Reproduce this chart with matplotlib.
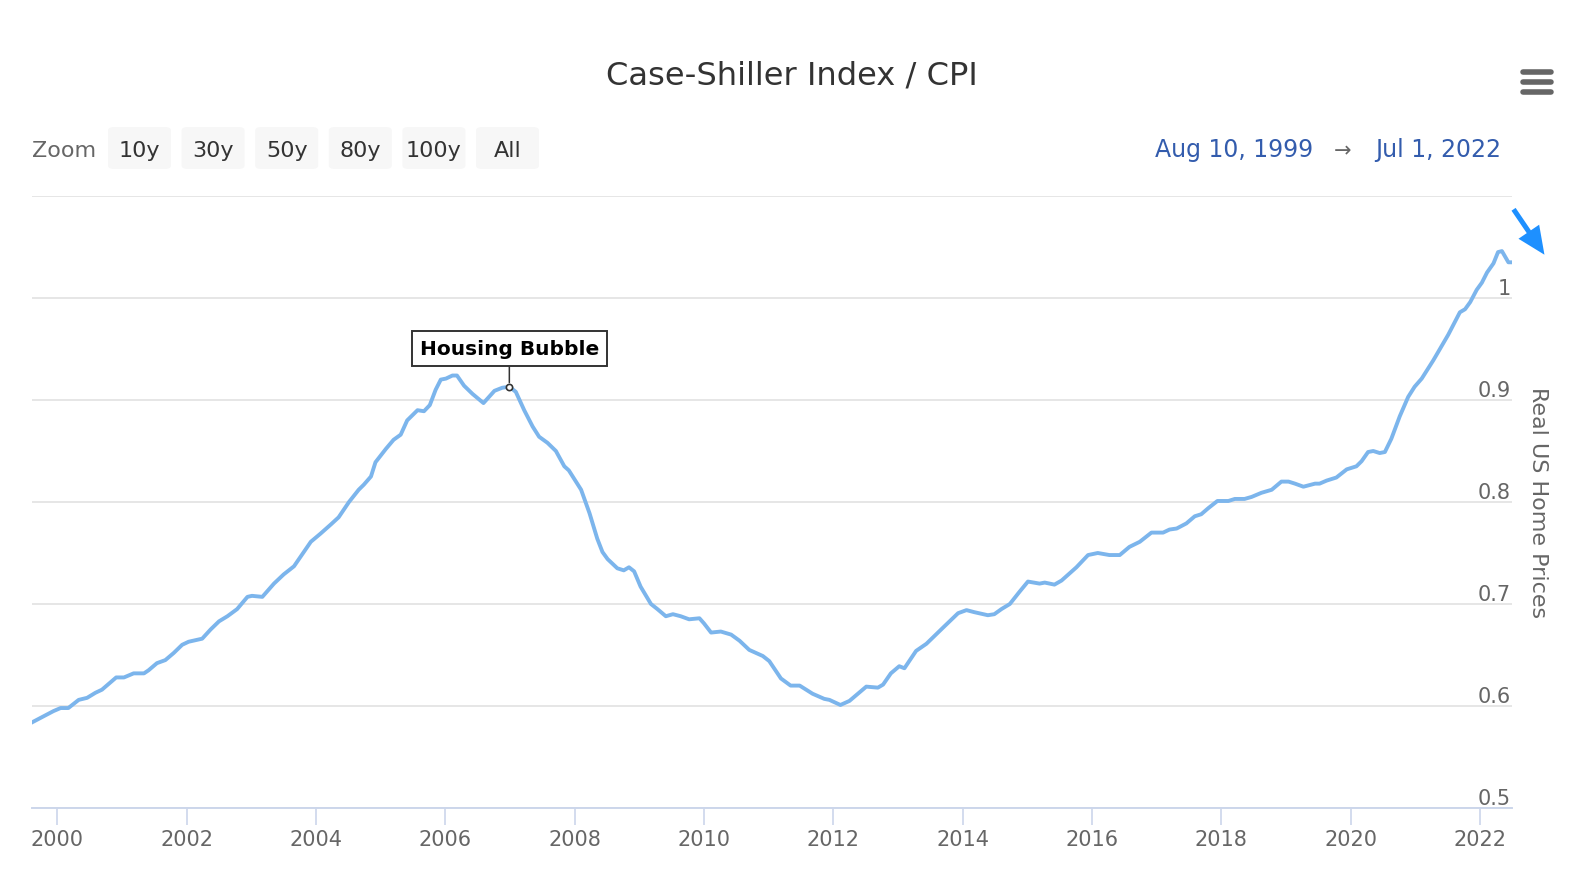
import numpy as np
import matplotlib
matplotlib.use('Agg')
import matplotlib.pyplot as plt
import matplotlib.patches as mpatches
import matplotlib.lines as mlines
import matplotlib.transforms as mtransforms

# Case-Shiller / CPI (decimal years)
years = [1999.61, 1999.94, 2000.05, 2000.17, 2000.33, 2000.46, 2000.59, 2000.69, 2000.91, 2001.03,
         2001.18, 2001.34, 2001.41, 2001.54, 2001.67, 2001.80, 2001.93, 2002.03, 2002.24, 2002.37,
         2002.50, 2002.63, 2002.78, 2002.94, 2003.01, 2003.17, 2003.35, 2003.50, 2003.66, 2003.79,
         2003.92, 2004.07, 2004.23, 2004.35, 2004.51, 2004.66, 2004.74, 2004.85, 2004.92, 2005.08,
         2005.20, 2005.31, 2005.41, 2005.57, 2005.67, 2005.76, 2005.85, 2005.93, 2006.01, 2006.11,
         2006.18, 2006.29, 2006.42, 2006.59, 2006.66, 2006.76, 2006.88, 2006.99, 2007.09, 2007.22,
         2007.35, 2007.45, 2007.58, 2007.71, 2007.84, 2007.91, 2008.10, 2008.23, 2008.35, 2008.43,
         2008.51, 2008.66, 2008.76, 2008.84, 2008.92, 2009.02, 2009.18, 2009.28, 2009.41, 2009.52,
         2009.64, 2009.77, 2009.93, 2010.00, 2010.11, 2010.26, 2010.42, 2010.55, 2010.70, 2010.91,
         2011.01, 2011.19, 2011.34, 2011.48, 2011.68, 2011.86, 2011.94, 2012.11, 2012.25, 2012.51,
         2012.69, 2012.77, 2012.89, 2013.02, 2013.10, 2013.28, 2013.44, 2013.70, 2013.93, 2014.06,
         2014.18, 2014.39, 2014.49, 2014.60, 2014.73, 2014.88, 2015.01, 2015.19, 2015.27, 2015.42,
         2015.53, 2015.76, 2015.94, 2016.09, 2016.27, 2016.43, 2016.58, 2016.74, 2016.92, 2017.10,
         2017.20, 2017.31, 2017.46, 2017.59, 2017.69, 2017.80, 2017.94, 2018.11, 2018.21, 2018.36,
         2018.47, 2018.62, 2018.78, 2018.93, 2019.04, 2019.14, 2019.27, 2019.45, 2019.52, 2019.63,
         2019.78, 2019.94, 2020.09, 2020.17, 2020.27, 2020.35, 2020.45, 2020.53, 2020.63, 2020.76,
         2020.89, 2020.99, 2021.10, 2021.28, 2021.51, 2021.69, 2021.77, 2021.85, 2021.95, 2022.03,
         2022.11, 2022.21, 2022.28, 2022.34, 2022.44, 2022.50]
values = [0.584, 0.595, 0.598, 0.598, 0.606, 0.608, 0.613, 0.616, 0.628, 0.628,
          0.632, 0.632, 0.635, 0.642, 0.645, 0.652, 0.660, 0.663, 0.666, 0.675,
          0.683, 0.688, 0.695, 0.707, 0.708, 0.707, 0.720, 0.729, 0.737, 0.749,
          0.761, 0.769, 0.778, 0.785, 0.800, 0.812, 0.817, 0.825, 0.839, 0.852,
          0.861, 0.866, 0.880, 0.890, 0.889, 0.895, 0.910, 0.920, 0.921, 0.924,
          0.924, 0.914, 0.906, 0.897, 0.902, 0.909, 0.912, 0.913, 0.908, 0.890,
          0.874, 0.864, 0.858, 0.850, 0.835, 0.831, 0.812, 0.789, 0.764, 0.751,
          0.744, 0.735, 0.733, 0.736, 0.732, 0.717, 0.700, 0.695, 0.688, 0.690,
          0.688, 0.685, 0.686, 0.681, 0.672, 0.673, 0.670, 0.664, 0.655, 0.649,
          0.644, 0.627, 0.620, 0.620, 0.612, 0.607, 0.606, 0.601, 0.605, 0.619,
          0.618, 0.621, 0.632, 0.639, 0.637, 0.654, 0.661, 0.677, 0.691, 0.694,
          0.692, 0.689, 0.690, 0.695, 0.700, 0.712, 0.722, 0.720, 0.721, 0.719,
          0.723, 0.736, 0.748, 0.750, 0.748, 0.748, 0.756, 0.761, 0.770, 0.770,
          0.773, 0.774, 0.779, 0.786, 0.788, 0.794, 0.801, 0.801, 0.803, 0.803,
          0.805, 0.809, 0.812, 0.820, 0.820, 0.818, 0.815, 0.818, 0.818, 0.821,
          0.824, 0.832, 0.835, 0.840, 0.849, 0.850, 0.848, 0.849, 0.862, 0.884,
          0.903, 0.913, 0.921, 0.939, 0.964, 0.986, 0.989, 0.996, 1.008, 1.015,
          1.025, 1.034, 1.045, 1.046, 1.035, 1.035]

x_ticks = list(range(2000, 2023, 2))
y_ticks = [0.5, 0.6, 0.7, 0.8, 0.9, 1.0]
y_tick_labels = ['0.5', '0.6', '0.7', '0.8', '0.9', '1']
note_year, note_value = 2006.99, 0.913
zoom_buttons = ['10y', '30y', '50y', '80y', '100y', 'All']

W, H = 1576, 878
fig = plt.figure(figsize=(W / 100, H / 100), dpi=100)

def fx(px):
    return px / W

def fy(py):
    return 1 - py / H

ax = fig.add_axes([fx(32), fy(809), fx(1512) - fx(32), fy(197) - fy(809)])
ax.plot(years, values, color='#7cb5ec', lw=2.8, solid_joinstyle='round', zorder=3)
ax.set_xlim(1999.608, 2022.496)
ax.set_ylim(0.5, 1.1)

# grid and axes
ax.set_yticks(y_ticks + [1.1])
ax.tick_params(axis='y', length=0, labelleft=False, labelright=False)
ax.grid(axis='y', color='#e6e6e6', lw=1.4)
ax.set_axisbelow(True)
for s in ['top', 'left', 'right']:
    ax.spines[s].set_visible(False)
ax.spines['bottom'].set_color('#ccd6eb')
ax.spines['bottom'].set_linewidth(1.4)
ax.set_xticks(x_ticks)
ax.set_xticklabels([str(y) for y in x_ticks])
ax.tick_params(axis='x', length=12, width=1.2, color='#ccd6eb', pad=3,
               labelsize=15, labelcolor='#666666')

# y labels drawn inside, right aligned, just above grid lines
trans = mtransforms.blended_transform_factory(ax.transAxes, ax.transData)
for v, lab in zip(y_ticks, y_tick_labels):
    ax.annotate(lab, xy=(1.0, v), xycoords=trans, xytext=(-1, 3), textcoords='offset points',
                ha='right', va='baseline', fontsize=15, color='#666666')

# annotation
ax.plot([note_year], [note_value], marker='o', ms=4.5, mfc='white', mec='#333333', mew=1.2, zorder=5)
ax.annotate('Housing Bubble', xy=(note_year, note_value), xytext=(0, 27.5), textcoords='offset points',
            ha='center', va='center', fontsize=14.5, fontweight='bold', color='black',
            bbox=dict(boxstyle='square,pad=0.38', fc='white', ec='#333333', lw=1.4),
            arrowprops=dict(arrowstyle='-', color='#333333', lw=1.1, shrinkA=0, shrinkB=3),
            zorder=6)

# title
fig.text(fx(792), fy(85), 'Case-Shiller Index / CPI', ha='center', va='baseline',
         fontsize=23.1, color='#333333')

# range selector
fig.text(fx(32), fy(157), 'Zoom', ha='left', va='baseline', fontsize=16, color='#666666')
for i, lab in enumerate(zoom_buttons):
    x0 = 108 + i * 73.6
    box = mpatches.FancyBboxPatch((fx(x0), fy(170)), fx(63), fy(128) - fy(170),
                                  boxstyle='round,pad=0,rounding_size=0.004',
                                  transform=fig.transFigure, fc='#f7f7f7', ec='none')
    fig.add_artist(box)
    fig.text(fx(x0 + 31.5), fy(157), lab, ha='center', va='baseline', fontsize=16, color='#333333')

fig.text(fx(1313), fy(157), 'Aug 10, 1999', ha='right', va='baseline', fontsize=17, color='#335cad')
fig.text(fx(1343), fy(157), '\u2192', ha='center', va='baseline', fontsize=15, color='#666666')
fig.text(fx(1501), fy(157), 'Jul 1, 2022', ha='right', va='baseline', fontsize=17, color='#335cad')

# menu icon
for yy in [73, 83, 93]:
    fig.add_artist(mlines.Line2D([fx(1523), fx(1551)], [fy(yy), fy(yy)], transform=fig.transFigure,
                                 color='#666666', lw=4, solid_capstyle='round'))

# blue arrow marker at the top right
fig.add_artist(mpatches.FancyArrowPatch((fx(1512), fy(208)), (fx(1546), fy(258)),
                                        transform=fig.transFigure,
                                        arrowstyle='simple,head_length=1.0,head_width=0.9,tail_width=0.18',
                                        mutation_scale=20, color='#1e90ff', lw=0))

# y axis title
fig.text(fx(1538), fy(503), 'Real US Home Prices', rotation=270, ha='center', va='center',
         fontsize=16, color='#666666')

fig.savefig('out.png', dpi=100)
